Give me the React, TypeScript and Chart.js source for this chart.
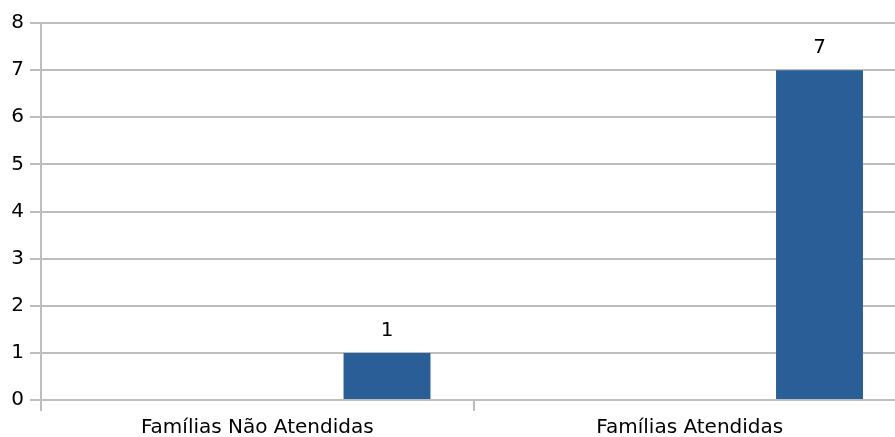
import React, { useEffect, useRef } from "react";
import { Chart, registerables } from "chart.js";

Chart.register(...registerables);

const categories = ["Famílias Não Atendidas", "Famílias Atendidas"];
const seriesA: (number | null)[] = [null, null];
const seriesB: (number | null)[] = [null, null];
const seriesC: number[] = [1, 7];
const yTicks = [0, 1, 2, 3, 4, 5, 6, 7, 8];

const BAR = "#2a5e97";
const GRID = "#bdbdbd";
const FONT = "'DejaVu Sans', Verdana, sans-serif";

const valueLabels = {
  id: "valueLabels",
  afterDatasetsDraw(chart: any) {
    const ctx = chart.ctx;
    ctx.save();
    ctx.font = `20px ${FONT}`;
    ctx.fillStyle = "#000";
    ctx.textAlign = "center";
    ctx.textBaseline = "middle";
    chart.data.datasets.forEach((ds: any, di: number) => {
      const meta = chart.getDatasetMeta(di);
      meta.data.forEach((el: any, i: number) => {
        const v = ds.data[i];
        if (v == null) return;
        ctx.fillText(String(v), el.x, el.y - 22);
      });
    });
    ctx.restore();
  },
};

export default function App() {
  const ref = useRef<HTMLCanvasElement>(null);
  useEffect(() => {
    document.body.style.overflow = "hidden";
    const chart = new Chart(ref.current!, {
      type: "bar",
      data: {
        labels: categories,
        datasets: [
          { label: "A", data: seriesA, backgroundColor: BAR },
          { label: "B", data: seriesB, backgroundColor: BAR },
          { label: "C", data: seriesC, backgroundColor: BAR },
        ],
      },
      options: {
        animation: false,
        responsive: false,
        maintainAspectRatio: false,
        layout: { padding: { left: 5.3, right: 4, top: 23, bottom: 1 } },
        datasets: { bar: { categoryPercentage: 0.9, barPercentage: 0.67 } },
        plugins: { legend: { display: false }, tooltip: { enabled: false } },
        scales: {
          x: {
            grid: {
              display: true,
              drawOnChartArea: false,
              color: GRID,
              lineWidth: 2,
              tickLength: 11,
              offset: true,
            },
            border: { color: GRID, width: 2 },
            ticks: { color: "#000", font: { family: FONT, size: 20 }, padding: 5 },
          },
          y: {
            min: 0,
            max: 8,
            afterBuildTicks(axis: any) {
              axis.ticks = yTicks.map((v) => ({ value: v }));
            },
            grid: { color: GRID, lineWidth: 2, tickLength: 11 },
            border: { color: GRID, width: 2 },
            ticks: { color: "#000", font: { family: FONT, size: 20 }, padding: 6 },
          },
        },
      },
      plugins: [valueLabels],
    });
    return () => chart.destroy();
  }, []);
  return (
    <div style={{ position: "fixed", left: 0, top: 0, width: 910, height: 437, overflow: "hidden" }}>
      <canvas ref={ref} width={910} height={446} style={{ width: 910, height: 446, display: "block" }} />
    </div>
  );
}
